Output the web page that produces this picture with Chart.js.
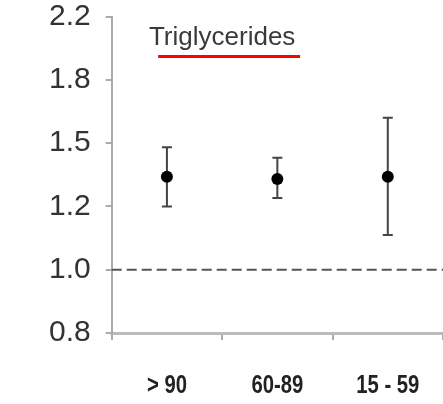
<!DOCTYPE html>
<html>
  <head>
    <meta charset="UTF-8" />
    <script src="https://cdn.jsdelivr.net/npm/chart.js"></script>
    <style>
      body { margin: 0; background: #fff; }
      #wrap { width: 443px; height: 404px; }
    </style>
  </head>
  <body>
    <div id="wrap"><canvas id="myChart"></canvas></div>
    <script>
      const groups = ["> 90", "60-89", "15 - 59"];
      const yTickValues = [0.8, 1.0, 1.2, 1.5, 1.8, 2.2];
      const yTickLabels = ["0.8", "1.0", "1.2", "1.5", "1.8", "2.2"];
      const means = [1.34, 1.33, 1.34];
      const lower = [1.2, 1.24, 1.11];
      const upper = [1.48, 1.43, 1.62];
      const refValue = 1.0;
      const titleText = "Triglycerides";

      // axis ticks are evenly spaced but not evenly valued, so map a value
      // to its position between the two ticks around it
      function toAxis(v) {
        for (let i = 0; i < yTickValues.length - 1; i++) {
          const a = yTickValues[i], b = yTickValues[i + 1];
          if (v <= b || i === yTickValues.length - 2) {
            return i + (v - a) / (b - a);
          }
        }
      }

      const errorBars = {
        id: "errorBars",
        beforeDatasetsDraw(chart) {
          const { ctx, scales } = chart;
          ctx.save();
          ctx.strokeStyle = "#444";
          ctx.lineWidth = 2;
          groups.forEach((g, i) => {
            const x = scales.x.getPixelForValue(i);
            const yLo = scales.y.getPixelForValue(toAxis(lower[i]));
            const yHi = scales.y.getPixelForValue(toAxis(upper[i]));
            ctx.beginPath();
            ctx.moveTo(x, yLo);
            ctx.lineTo(x, yHi);
            ctx.moveTo(x - 5, yLo);
            ctx.lineTo(x + 5, yLo);
            ctx.moveTo(x - 5, yHi);
            ctx.lineTo(x + 5, yHi);
            ctx.stroke();
          });
          // reference line
          const yRef = scales.y.getPixelForValue(toAxis(refValue));
          ctx.strokeStyle = "#555";
          ctx.setLineDash([10, 5]);
          ctx.beginPath();
          ctx.moveTo(chart.chartArea.left, yRef);
          ctx.lineTo(chart.chartArea.right, yRef);
          ctx.stroke();
          ctx.restore();
        },
        afterDraw(chart) {
          const { ctx, chartArea, scales } = chart;
          const cx = chartArea.left + (chartArea.right - chartArea.left) / 3;
          ctx.save();
          ctx.font = "26px 'Liberation Sans', Arial, sans-serif";
          ctx.fillStyle = "#3a3a3a";
          ctx.textAlign = "center";
          ctx.textBaseline = "alphabetic";
          ctx.fillText(titleText, cx, 45);
          ctx.fillStyle = "#ff0000";
          ctx.fillRect(cx - 64, 55, 142, 3);

          // category labels, narrow bold like the original
          ctx.font = "bold 26px 'Liberation Sans', Arial, sans-serif";
          ctx.fillStyle = "#222";
          ctx.textBaseline = "middle";
          groups.forEach((g, i) => {
            const x = scales.x.getPixelForValue(i);
            ctx.save();
            ctx.translate(x, chartArea.bottom + 53);
            ctx.scale(0.78, 1);
            ctx.fillText(g, 0, 0);
            ctx.restore();
          });
          ctx.restore();
        },
      };

      new Chart(document.getElementById("myChart"), {
        type: "line",
        data: {
          labels: groups,
          datasets: [
            {
              data: means.map(toAxis),
              showLine: false,
              pointRadius: 6,
              pointHoverRadius: 6,
              pointBackgroundColor: "#000",
              pointBorderColor: "#000",
              pointBorderWidth: 0,
            },
          ],
        },
        options: {
          responsive: true,
          maintainAspectRatio: false,
          animation: false,
          layout: {
            autoPadding: false,
            padding: { left: 34, right: 0, top: 1, bottom: 64 },
          },
          plugins: {
            legend: { display: false },
            tooltip: { enabled: false },
          },
          scales: {
            x: {
              type: "category",
              offset: true,
              grid: {
                offset: true,
                drawOnChartArea: false,
                drawTicks: true,
                tickLength: 7,
                color: "#aaa",
                lineWidth: 2,
              },
              border: { color: "#bbb", width: 3 },
              ticks: { display: false },
            },
            y: {
              min: 0,
              max: yTickValues.length - 1,
              grid: {
                drawOnChartArea: false,
                drawTicks: true,
                tickLength: 6,
                color: "#aaa",
                lineWidth: 2,
              },
              border: { color: "#aaa", width: 2 },
              ticks: {
                stepSize: 1,
                padding: 15,
                color: "#333",
                font: { family: "'Liberation Sans', Arial, sans-serif", size: 30, lineHeight: 0.1 },
                callback: (v) => yTickLabels[v],
              },
            },
          },
        },
        plugins: [errorBars],
      });
    </script>
  </body>
</html>
